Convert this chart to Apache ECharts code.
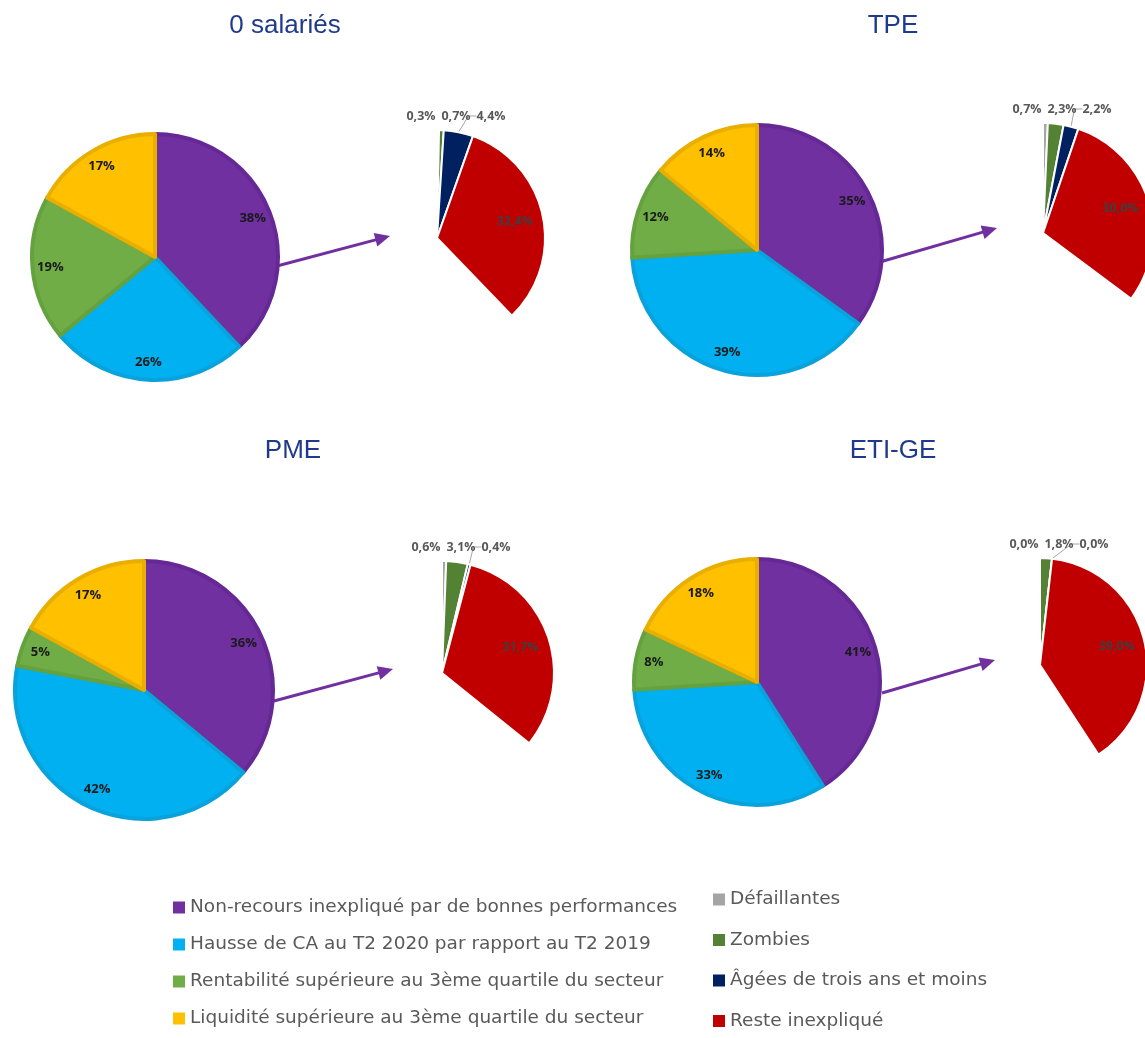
<!DOCTYPE html>
<html><head><meta charset="utf-8">
<script src="https://cdn.jsdelivr.net/npm/echarts@6/dist/echarts.min.js"></script>
<style>html,body{margin:0;padding:0;background:#fff}#c{width:1145px;height:1038px}</style>
</head><body><div id="c"></div>
<script>
// ---- data ----
const panelTitles = ['0 salariés', 'TPE', 'PME', 'ETI-GE'];
const mainCategories = [
  'Non-recours inexpliqué par de bonnes performances',
  'Hausse de CA au T2 2020 par rapport au T2 2019',
  'Rentabilité supérieure au 3ème quartile du secteur',
  'Liquidité supérieure au 3ème quartile du secteur'
];
const subCategories = ['Défaillantes', 'Zombies', 'Âgées de trois ans et moins', 'Reste inexpliqué'];
const main0Salaries = [38, 26, 19, 17];
const mainTPE = [35, 39, 12, 14];
const mainPME = [36, 42, 5, 17];
const mainETIGE = [41, 33, 8, 18];
const sub0Salaries = [0.3, 0.7, 4.4, 32.4];
const subTPE = [0.7, 2.3, 2.2, 30.0];
const subPME = [0.6, 3.1, 0.4, 31.7];
const subETIGE = [0.0, 1.8, 0.0, 39.0];

const mainSets = [main0Salaries, mainTPE, mainPME, mainETIGE];
const subSets = [sub0Salaries, subTPE, subPME, subETIGE];

// ---- styles / layout ----
const mainColors = ['#7030A0', '#00B0F0', '#70AD47', '#FFC000'];
const mainBorders = ['#652894', '#0AA2DA', '#64A23F', '#E8AE00'];
const subColors = ['#A5A5A5', '#548235', '#002060', '#C00000'];
const layout = [
  { title: [285, 26], main: [155, 257, 123], sub: [437, 238, 108], arrow: [277, 266, 390, 236] },
  { title: [893, 26], main: [757, 250, 125], sub: [1043, 233, 110], arrow: [880, 262, 997, 228] },
  { title: [293, 451], main: [144, 690, 129], sub: [442, 673, 112], arrow: [274, 701, 393, 669] },
  { title: [893, 451], main: [757, 682, 123], sub: [1040, 665, 107], arrow: [882, 693, 995, 660] }
];
const fmtPct = v => v.toFixed(1).replace('.', ',') + '%';

const series = [];
const graphics = [];
layout.forEach((L, i) => {
  const [mx, my, mr] = L.main;
  const [sx, sy, sr] = L.sub;
  const mainVals = mainSets[i];
  const subVals = subSets[i];
  // main pie
  series.push({
    type: 'pie', center: [mx, my], radius: [0, mr], startAngle: 90, clockwise: true,
    silent: true, animation: false, label: { show: false }, labelLine: { show: false },
    emphasis: { disabled: true },
    data: mainCategories.map((n, k) => ({
      name: n, value: mainVals[k],
      itemStyle: { color: mainColors[k], borderColor: mainBorders[k], borderWidth: 4 }
    }))
  });
  // main labels
  series.push({
    type: 'pie', center: [mx, my], radius: [mr * 0.66, mr], startAngle: 90, clockwise: true,
    silent: true, animation: false, emphasis: { disabled: true },
    itemStyle: { color: 'rgba(0,0,0,0)' },
    label: {
      show: true, position: 'inside', formatter: p => p.value + '%',
      color: '#1A1A1A', fontWeight: 'bold', fontSize: 13, fontFamily: 'Open Sans'
    },
    labelLine: { show: false },
    data: mainVals.map(v => ({ name: '', value: v }))
  });
  // sub (exploded) pie
  const rest = 100 - subVals.reduce((a, b) => a + b, 0);
  series.push({
    type: 'pie', center: [sx, sy], radius: [0, sr], startAngle: 90, clockwise: true,
    silent: true, animation: false, emphasis: { disabled: true },
    avoidLabelOverlap: false,
    itemStyle: { borderColor: '#fff', borderWidth: 2 },
    label: {
      show: true, position: 'outside', formatter: p => fmtPct(p.value),
      color: '#595959', fontWeight: 'bold', fontSize: 12.5, fontFamily: 'Open Sans'
    },
    labelLine: { show: false, length: 8, length2: 8, lineStyle: { color: '#A6A6A6', width: 1 } },
    labelLayout: p => {
      if (p.dataIndex > 2) return {};
      return { x: sx - 16 + p.dataIndex * 35, y: sy - sr - 14, align: 'center', verticalAlign: 'middle', moveOverlap: null, hideOverlap: false };
    },
    data: subCategories.map((n, k) => ({
      name: n, value: subVals[k],
      itemStyle: { color: subColors[k] },
      label: { show: k < 3 },
      labelLine: { show: k === 2 }
    })).concat([{
      name: '', value: rest,
      itemStyle: { color: 'rgba(0,0,0,0)', borderWidth: 0 },
      label: { show: false }, labelLine: { show: false }
    }])
  });
  // sub inner label (Reste inexpliqué)
  series.push({
    type: 'pie', center: [sx, sy], radius: [sr * 0.42, sr], startAngle: 90, clockwise: true,
    silent: true, animation: false, emphasis: { disabled: true },
    itemStyle: { color: 'rgba(0,0,0,0)' },
    label: {
      show: true, position: 'inside', formatter: p => fmtPct(p.value),
      color: '#3F3F3F', fontWeight: 'bold', fontSize: 12.5, fontFamily: 'Open Sans'
    },
    labelLine: { show: false },
    data: subVals.map((v, k) => ({ name: '', value: v, label: { show: k === 3 } }))
      .concat([{ name: '', value: rest, label: { show: false } }])
  });
  // title
  graphics.push({
    type: 'text', x: L.title[0], y: L.title[1], silent: true,
    style: { text: panelTitles[i], textAlign: 'center', textVerticalAlign: 'middle',
      fill: '#1F3A8C', font: '26px "Liberation Sans", Arial, sans-serif' }
  });
  // arrow
  const [x1, y1, x2, y2] = L.arrow;
  const dx = x2 - x1, dy = y2 - y1, len = Math.hypot(dx, dy);
  const ux = dx / len, uy = dy / len, nx = -uy, ny = ux;
  const hl = 15, hw = 7;
  const bx = x2 - ux * hl, by = y2 - uy * hl;
  graphics.push({
    type: 'line', silent: true,
    shape: { x1: x1, y1: y1, x2: bx + ux * 2, y2: by + uy * 2 },
    style: { stroke: '#7030A0', lineWidth: 3 }
  });
  graphics.push({
    type: 'polygon', silent: true,
    shape: { points: [[x2, y2], [bx + nx * hw, by + ny * hw], [bx - nx * hw, by - ny * hw]] },
    style: { fill: '#7030A0' }
  });
});

const legendText = { fontSize: 18.5, color: '#595959', fontFamily: 'DejaVu Sans' };
const legendItem = { borderWidth: 0 };
const option = {
  backgroundColor: '#fff',
  animation: false,
  legend: [
    { data: mainCategories, orient: 'vertical', left: 173, top: 898, padding: 0, icon: 'rect',
      itemWidth: 12, itemHeight: 12, itemGap: 18, selectedMode: false,
      itemStyle: legendItem, textStyle: legendText },
    { data: subCategories, orient: 'vertical', left: 713, top: 890, padding: 0, icon: 'rect',
      itemWidth: 12, itemHeight: 12, itemGap: 21.5, selectedMode: false,
      itemStyle: legendItem, textStyle: legendText }
  ],
  graphic: graphics,
  series: series
};
const chart = echarts.init(document.getElementById('c'), null, { renderer: 'canvas' });
chart.setOption(option);
</script>
</body></html>
